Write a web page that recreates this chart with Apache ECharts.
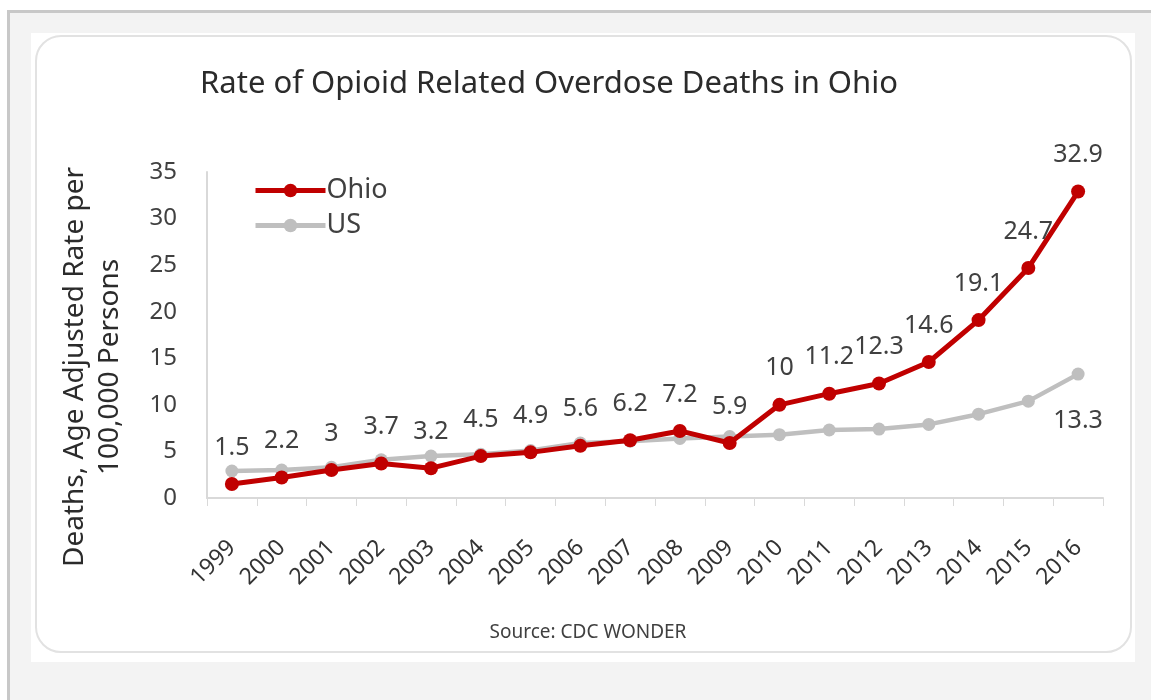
<!DOCTYPE html>
<html>
<head>
<meta charset="utf-8">
<script src="https://cdn.jsdelivr.net/npm/echarts@6/dist/echarts.min.js"></script>
<style>
  html, body { margin: 0; padding: 0; background: #ffffff; width: 1151px; height: 700px; overflow: hidden; }
  #frame { position: absolute; left: 7px; top: 10px; width: 1144px; height: 690px; box-sizing: border-box;
           background: #f3f3f3; border-top: 3px solid #c8c8c8; border-left: 3px solid #c8c8c8; }
  #panelbg { position: absolute; left: 31px; top: 33px; width: 1104px; height: 629px; background: #ffffff; }
  #panel { position: absolute; left: 35px; top: 35px; width: 1097px; height: 618px; box-sizing: border-box;
           border: 2px solid #e2e2e2; border-radius: 26px; background: #ffffff; }
  #chart { position: absolute; left: 0; top: 0; width: 1151px; height: 700px; }
</style>
</head>
<body>
<div id="frame"></div>
<div id="panelbg"></div>
<div id="panel"></div>
<div id="chart"></div>
<script>
const years = ['1999','2000','2001','2002','2003','2004','2005','2006','2007','2008','2009','2010','2011','2012','2013','2014','2015','2016'];
const ohio = [1.5, 2.2, 3, 3.7, 3.2, 4.5, 4.9, 5.6, 6.2, 7.2, 5.9, 10, 11.2, 12.3, 14.6, 19.1, 24.7, 32.9];
const us = [2.9, 3.0, 3.3, 4.1, 4.5, 4.7, 5.1, 5.9, 6.1, 6.4, 6.6, 6.8, 7.3, 7.4, 7.9, 9.0, 10.4, 13.3];
const yTicks = [0, 5, 10, 15, 20, 25, 30, 35];

const FONT = '"Noto Sans", sans-serif';
const chart = echarts.init(document.getElementById('chart'), null, { renderer: 'canvas' });

const usData = us.map((v, i) => i === us.length - 1
  ? { value: v, label: { show: true, position: 'bottom', distance: 28 } }
  : v);

chart.setOption({
  backgroundColor: 'transparent',
  animation: false,
  title: {
    text: 'Rate of Opioid Related Overdose Deaths in Ohio',
    left: 544, top: 64, textAlign: 'center',
    textStyle: { fontFamily: FONT, fontSize: 31, fontWeight: 'normal', color: '#2b2b2b' }
  },
  legend: {
    orient: 'vertical', left: 248, top: 172, itemGap: 8,
    itemWidth: 70, itemHeight: 17,
    lineStyle: { width: 5 },
    textStyle: { fontFamily: FONT, fontSize: 27, color: '#404040', padding: [0, 0, 0, -4] },
    data: ['Ohio', 'US']
  },
  grid: { left: 207, right: 48, top: 172, bottom: 202 },
  xAxis: {
    type: 'category', data: years, boundaryGap: true,
    axisLine: { lineStyle: { color: '#d9d9d9', width: 2 } },
    axisTick: { show: true, length: 8, lineStyle: { color: '#d9d9d9', width: 1 } },
    axisLabel: { rotate: 45, margin: 46, fontFamily: FONT, fontSize: 23, color: '#333333', interval: 0 }
  },
  yAxis: {
    type: 'value', min: 0, max: 35, interval: 5,
    axisLine: { show: true, lineStyle: { color: '#d9d9d9', width: 2 } },
    axisTick: { show: false },
    splitLine: { show: false },
    axisLabel: { margin: 30, fontFamily: FONT, fontSize: 24, color: '#404040',
      formatter: v => yTicks.includes(v) ? String(v) : '' }
  },
  graphic: [{
    type: 'text', x: 93, y: 367, rotation: Math.PI / 2,
    style: {
      text: 'Deaths, Age Adjusted Rate per\n100,000 Persons',
      font: '28px ' + FONT, fill: '#2b2b2b', align: 'center', verticalAlign: 'middle', lineHeight: 35
    }
  }, {
    type: 'text', x: 588, y: 633,
    style: { text: 'Source: CDC WONDER', font: '19px ' + FONT, fill: '#404040', align: 'center', verticalAlign: 'middle' }
  }],
  series: [{
    name: 'US', type: 'line', data: usData, z: 2,
    symbol: 'circle', symbolSize: 13,
    lineStyle: { color: '#bfbfbf', width: 4.5 },
    itemStyle: { color: '#bfbfbf' },
    label: { show: false, fontFamily: FONT, fontSize: 25, color: '#404040' }
  }, {
    name: 'Ohio', type: 'line', data: ohio, z: 3,
    symbol: 'circle', symbolSize: 14,
    lineStyle: { color: '#c00000', width: 5 },
    itemStyle: { color: '#c00000' },
    label: { show: true, position: 'top', distance: 17, fontFamily: FONT, fontSize: 25, color: '#404040' }
  }]
});
</script>
</body>
</html>
